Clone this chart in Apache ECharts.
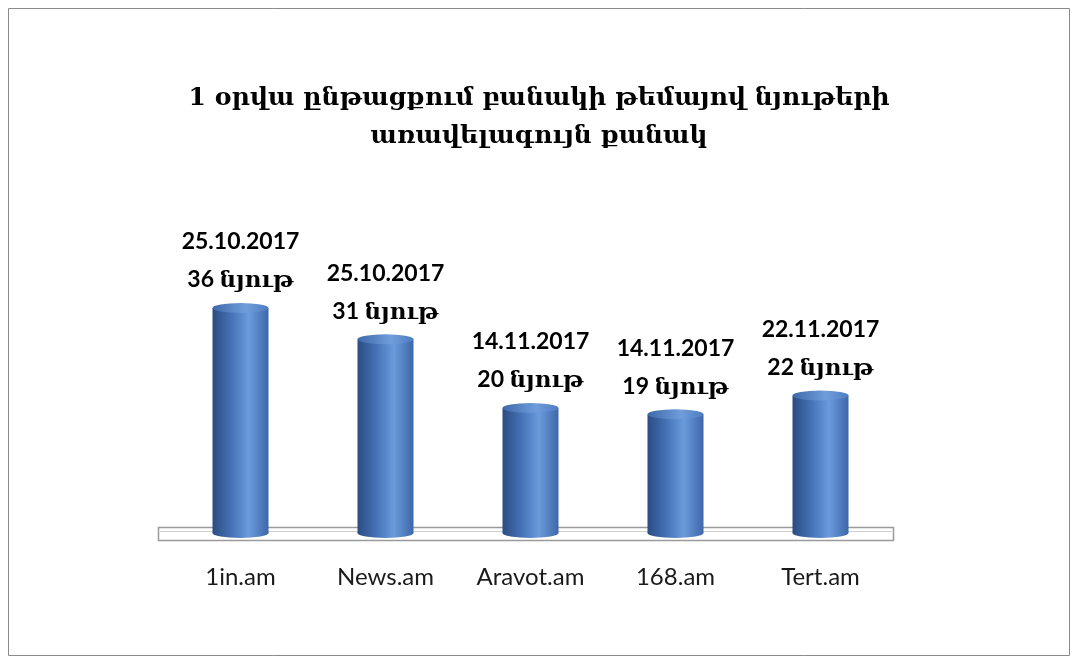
<!DOCTYPE html>
<html>
<head>
<meta charset="utf-8">
<script src="https://cdn.jsdelivr.net/npm/echarts@6/dist/echarts.min.js"></script>
<style>
	html, body { margin: 0; padding: 0; background: #fff; }
	#chart { width: 1078px; height: 664px; }
</style>
</head>
<body>
<div id="chart"></div>
<script>
// chart data
var sites = ['1in.am', 'News.am', 'Aravot.am', '168.am', 'Tert.am']
var counts = [36, 31, 20, 19, 22]
var dates = ['25.10.2017', '25.10.2017', '14.11.2017', '14.11.2017', '22.11.2017']
var unit = 'նյութ'
var titleLines = ['1 օրվա ընթացքում բանակի թեմայով նյութերի', 'առավելագույն քանակ']

var chart = echarts.init(document.getElementById('chart'))

var bodyGradient = new echarts.graphic.LinearGradient(0, 0, 1, 0, [
	{ offset: 0, color: '#2b4c82' },
	{ offset: 0.35, color: '#4674b8' },
	{ offset: 0.65, color: '#6b9bdb' },
	{ offset: 1, color: '#3d67a8' },
])

var option = {
	backgroundColor: '#fff',
	title: {
		text: titleLines.join('\n'),
		left: 'center',
		top: 74,
		textStyle: {
			fontFamily: 'DejaVu Serif',
			fontSize: 25,
			fontWeight: 'bold',
			color: '#000',
			lineHeight: 38,
		},
	},
	grid: { left: 168, width: 725, top: 283, bottom: 131 },
	xAxis: {
		type: 'category',
		data: sites,
		axisLine: { show: false },
		axisTick: { show: false },
		axisLabel: {
			interval: 0,
			margin: 32,
			fontFamily: 'Lato',
			fontSize: 24,
			color: '#1a1a1a',
		},
	},
	yAxis: {
		type: 'value',
		min: 0,
		max: 40,
		show: false,
		splitLine: { show: false },
	},
	graphic: [
		{
			type: 'rect',
			shape: { x: 8.5, y: 8.5, width: 1061, height: 647 },
			style: { fill: 'none', stroke: '#8a8a8a', lineWidth: 1 },
			z: -10,
		},
		{
			type: 'rect',
			shape: { x: 158.5, y: 527.5, width: 735, height: 13 },
			style: { fill: '#fff', stroke: '#9a9a9a', lineWidth: 1.5 },
			z: -5,
		},
		{
			type: 'line',
			shape: { x1: 160, y1: 531.5, x2: 892, y2: 531.5 },
			style: { stroke: '#d0d0d0', lineWidth: 1 },
			z: -5,
		},
	],
	series: [
		{
			type: 'bar',
			data: counts,
			barWidth: 56,
			itemStyle: { color: bodyGradient },
			z: 2,
		},
		{
			// bottom ellipse
			type: 'pictorialBar',
			data: counts,
			symbol: 'circle',
			symbolSize: [56, 10],
			symbolPosition: 'start',
			symbolOffset: [0, '50%'],
			itemStyle: { color: bodyGradient },
			z: 1,
		},
		{
			// top ellipse + labels
			type: 'pictorialBar',
			data: counts,
			symbol: 'circle',
			symbolSize: [56, 10],
			symbolPosition: 'end',
			symbolOffset: [0, '-50%'],
			itemStyle: {
				color: new echarts.graphic.LinearGradient(0, 0, 1, 0, [
					{ offset: 0, color: '#3f69aa' },
					{ offset: 0.6, color: '#6f9ddc' },
					{ offset: 1, color: '#4e7cc0' },
				]),
			},
			z: 3,
			label: {
				show: true,
				position: 'top',
				distance: 4,
				fontFamily: 'Lato, DejaVu Serif',
				fontWeight: 'bold',
				fontSize: 23,
				color: '#000',
				lineHeight: 38,
				formatter: function (p) {
					return dates[p.dataIndex] + '\n' + counts[p.dataIndex] + ' ' + unit
				},
			},
		},
	],
}

chart.setOption(option)
</script>
</body>
</html>
